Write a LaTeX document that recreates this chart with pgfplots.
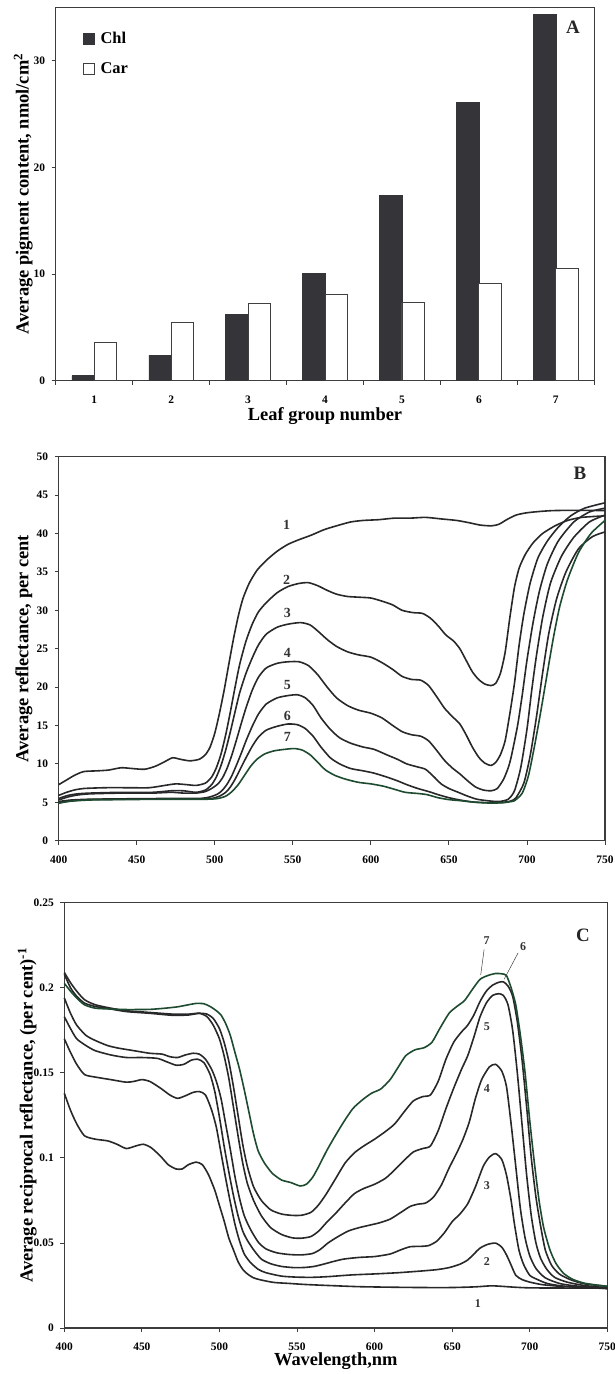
\documentclass[border=0pt]{standalone}
\usepackage{pgfplots}
\pgfplotsset{compat=1.18}
\usepackage{fontspec}
\setmainfont{Liberation Serif}
\definecolor{barfill}{RGB}{52,52,57}
\definecolor{axcol}{RGB}{60,60,60}
\definecolor{crv}{RGB}{40,40,42}
\definecolor{grn}{RGB}{30,75,48}
\newcommand{\fs}[1]{\fontsize{#1}{#1}\selectfont\bfseries}
\pgfplotsset{
  myaxis/.style={
    scale only axis,
    anchor=north west,
    axis line style={axcol, line width=1.1bp},
    tick style={axcol, line width=0.9bp},
    tick align=outside,
    major tick length=4bp,
    minor tick length=4bp,
    tick pos=left,
    /pgf/number format/assume math mode=true,
    tick label style={font=\fs{11.5}},
    yticklabel style={xshift=-3bp},
    xticklabel style={yshift=-7.5bp},
    label style={font=\fs{18.5}},
    ylabel style={anchor=center},
    xlabel style={anchor=center},
    clip=false,
  },
  crvstyle/.style={crv, line width=1.6bp, smooth, tension=0.4},
  grnstyle/.style={grn, line width=1.6bp, smooth, tension=0.4},
}
\begin{document}
\begin{tikzpicture}
%================ A =================
\begin{axis}[myaxis, at={(55.7bp,-7.3bp)}, width=538.6bp, height=373.4bp,
  xmin=0.5, xmax=7.5, ymin=0, ymax=35,
  ytick={0,10,20,30},
  xtick={1,2,3,4,5,6,7},
  every major x tick/.append style={draw=none},
  minor xtick={0.5,1.5,2.5,3.5,4.5,5.5,6.5,7.5},
  ybar, bar width=0.29,
  xlabel={Leaf group number},
  ylabel={Average pigment content, nmol/cm\textsuperscript{2}},
  xlabel style={at={(axis description cs:0.5,-0.0945)}},
  ylabel style={at={(axis description cs:-0.060,0.5)}},
  legend style={at={(axis description cs:0.05,0.94)}, anchor=north west,
    draw=none, fill=none, font=\fs{16.5}, row sep=14bp, inner sep=0pt,
    /tikz/every odd column/.append style={column sep=4bp}},
  legend cell align=left,
]
\addplot[ybar, bar shift=-0.145, fill=barfill, draw=barfill, line width=0.6bp,
  legend image code/.code={\draw[fill=barfill,draw=barfill] (0bp,-5.5bp) rectangle (11bp,5.5bp);}]
  coordinates {(1,0.47) (2,2.4) (3,6.2) (4,10.06) (5,17.4) (6,26.1) (7,34.3)};
\addlegendentry{Chl}
\addplot[ybar, bar shift=0.145, fill=white, draw=black!75, line width=0.8bp,
  legend image code/.code={\draw[fill=white,draw=black!75,line width=0.8bp] (0bp,-5.5bp) rectangle (11bp,5.5bp);}]
  coordinates {(1,3.6) (2,5.45) (3,7.27) (4,8.09) (5,7.33) (6,9.15) (7,10.56)};
\addlegendentry{Car}
\node[font=\fs{19}, text=black!85] at (axis description cs:0.9605,0.946) {A};
\end{axis}
%================ B =================
\begin{axis}[myaxis, at={(58.7bp,-456.7bp)}, width=546.3bp, height=384bp,
  xmin=400, xmax=750, ymin=0, ymax=50,
  xtick={400,450,500,550,600,650,700,750},
  ytick={0,5,10,15,20,25,30,35,40,45,50},
  ylabel={Average reflectance, per cent},
  ylabel style={at={(axis description cs:-0.0635,0.5)}},
]
\addplot[crvstyle] coordinates {(400,7.3)(405,7.9)(410,8.5)(416,9.0)(425,9.1)(432,9.2)(440,9.5)(447,9.4)(455,9.3)(462,9.7)(468,10.3)(473,10.8)(478,10.6)(484,10.4)(490,10.6)(494,11.2)(497,12.2)(500,14.0)(503,16.6)(506,19.6)(509,23.0)(512,26.3)(515,29.2)(518,31.5)(522,33.5)(527,35.2)(533,36.5)(540,37.7)(547,38.6)(554,39.2)(562,39.8)(570,40.5)(578,41.0)(587,41.5)(595,41.7)(605,41.8)(615,42.0)(625,42.0)(635,42.1)(645,41.9)(655,41.7)(663,41.4)(670,41.1)(677,41.0)(682,41.2)(687,41.8)(693,42.4)(700,42.7)(710,42.9)(720,43.0)(750,43.0)};
\addplot[crvstyle] coordinates {(400,5.9)(405,6.3)(410,6.6)(416,6.8)(430,6.9)(445,6.9)(458,6.9)(468,7.2)(475,7.4)(482,7.3)(488,7.2)(494,7.5)(498,8.3)(501,9.5)(504,11.3)(507,13.8)(510,16.8)(513,20.0)(516,23.0)(520,26.0)(524,28.2)(528,29.8)(533,31.0)(540,32.3)(547,33.1)(554,33.5)(560,33.6)(566,33.2)(572,32.6)(578,32.1)(585,31.8)(593,31.7)(600,31.6)(607,31.2)(614,30.7)(620,30.0)(627,29.7)(633,29.6)(638,29.0)(643,28.0)(648,26.8)(653,26.0)(657,25.0)(661,23.5)(665,22.0)(669,21.0)(673,20.4)(677,20.2)(680,20.5)(683,21.8)(686,24.5)(689,29.0)(692,33.0)(695,35.5)(699,37.3)(704,38.8)(710,40.0)(718,41.0)(726,41.7)(735,42.1)(750,42.3)};
\addplot[crvstyle] coordinates {(400,5.5)(406,5.9)(412,6.1)(420,6.2)(440,6.3)(460,6.3)(472,6.5)(480,6.5)(488,6.3)(494,6.6)(498,7.3)(501,8.3)(504,9.8)(507,11.8)(510,14.2)(513,16.8)(516,19.3)(520,21.8)(524,23.8)(528,25.5)(533,26.9)(540,27.8)(547,28.2)(555,28.4)(561,28.1)(566,27.3)(572,26.2)(578,25.3)(585,24.6)(592,24.2)(600,23.9)(607,23.2)(614,22.3)(620,21.4)(626,21.0)(632,20.9)(637,20.2)(642,18.8)(647,17.3)(652,16.2)(657,15.2)(661,13.8)(665,12.2)(669,10.9)(673,10.1)(677,9.8)(680,10.2)(683,11.2)(686,13.0)(689,16.5)(692,20.5)(695,25.5)(698,29.5)(702,33.5)(707,36.8)(713,39.0)(720,40.8)(728,42.3)(737,43.3)(750,44.0)};
\addplot[crvstyle] coordinates {(400,5.3)(406,5.7)(412,5.95)(420,6.1)(440,6.2)(460,6.2)(472,6.3)(480,6.2)(488,6.2)(494,6.4)(498,6.8)(502,7.4)(505,8.2)(508,9.5)(511,11.2)(514,13.2)(517,15.3)(520,17.3)(524,19.6)(528,21.3)(533,22.5)(540,23.1)(547,23.3)(554,23.3)(560,22.8)(566,21.6)(572,20.0)(578,18.6)(585,17.6)(592,17.0)(600,16.6)(607,16.0)(614,15.0)(620,14.2)(626,13.8)(632,13.6)(637,13.0)(642,11.8)(647,10.5)(652,9.5)(657,8.7)(662,7.8)(667,7.0)(672,6.6)(677,6.5)(681,6.8)(685,8.0)(688,9.5)(690,11)(694,15)(697,19)(700,23.5)(704,28.5)(708,32.5)(713,36)(720,39)(730,41.5)(740,42.8)(750,43.3)};
\addplot[crvstyle] coordinates {(400,5.1)(408,5.3)(420,5.4)(440,5.45)(470,5.5)(490,5.5)(497,5.7)(502,6.1)(505,6.6)(508,7.4)(511,8.5)(514,9.9)(517,11.4)(520,13.0)(524,14.9)(528,16.5)(533,17.8)(540,18.6)(547,18.9)(553,19.0)(558,18.6)(563,17.6)(568,16.0)(574,14.5)(580,13.4)(587,12.7)(595,12.2)(602,11.9)(610,11.2)(617,10.6)(623,10.0)(630,9.6)(635,9.3)(640,8.4)(645,7.4)(650,6.8)(656,6.3)(662,5.8)(668,5.4)(675,5.2)(682,5.1)(688,5.4)(692,6.5)(696,9.5)(700,14.5)(703,19.5)(706,24)(710,29)(715,33.5)(722,37)(730,39.5)(740,41.5)(750,42.4)};
\addplot[crvstyle] coordinates {(400,4.9)(408,5.2)(420,5.35)(440,5.4)(470,5.45)(490,5.45)(498,5.5)(503,5.8)(507,6.3)(510,7.0)(513,8.0)(516,9.2)(520,10.8)(524,12.3)(528,13.5)(533,14.4)(540,14.9)(547,15.2)(553,15.1)(558,14.6)(563,13.6)(568,12.2)(574,10.8)(580,10.0)(587,9.4)(595,9.1)(602,8.8)(610,8.3)(617,7.8)(623,7.3)(630,6.8)(637,6.4)(643,6.0)(650,5.6)(657,5.3)(665,5.05)(675,4.95)(685,5.0)(690,5.2)(693,5.6)(698,7.5)(702,11)(706,16)(710,21.8)(714,27)(719,31.5)(725,35)(733,38)(742,39.6)(750,40.2)};
\addplot[grnstyle] coordinates {(400,4.9)(408,5.15)(420,5.3)(440,5.35)(470,5.4)(495,5.4)(502,5.5)(507,5.8)(511,6.4)(515,7.3)(519,8.5)(523,9.7)(527,10.6)(532,11.3)(538,11.7)(545,11.9)(551,12.0)(556,11.8)(561,11.2)(566,10.2)(571,9.2)(577,8.5)(584,8.0)(592,7.6)(600,7.4)(608,7.1)(615,6.7)(622,6.3)(630,6.15)(636,6.0)(643,5.6)(650,5.35)(658,5.2)(667,5.0)(677,4.9)(685,4.95)(690,5.1)(692,5.2)(697,6.2)(701,8.5)(705,12.5)(709,17)(713,21.8)(717,26.5)(721,30.5)(726,34)(733,37.5)(741,40)(750,41.7)};
\begin{scope}[every node/.style={font=\fs{14}, text=black!80}]
\node at (axis cs:546,41.1) {1};
\node at (axis cs:546,34.0) {2};
\node at (axis cs:546.5,29.6) {3};
\node at (axis cs:546.5,24.5) {4};
\node at (axis cs:546.5,20.3) {5};
\node at (axis cs:546.5,16.2) {6};
\node at (axis cs:546.5,13.5) {7};
\end{scope}
\node[font=\fs{19}, text=black!85] at (axis description cs:0.954,0.9576) {B};
\end{axis}
%================ C =================
\begin{axis}[myaxis, at={(64.3bp,-902.7bp)}, width=543bp, height=425.3bp,
  xmin=400, xmax=750, ymin=0, ymax=0.25,
  xtick={400,450,500,550,600,650,700,750},
  ytick={0,0.05,0.1,0.15,0.2,0.25},
  yticklabels={0,0.05,0.1,0.15,0.2,0.25},
  xlabel={Wavelength,nm},
  ylabel={Average reciprocal reflectance, (per cent)\textsuperscript{-1}},
  xlabel style={at={(axis description cs:0.5,-0.078)}},
  ylabel style={at={(axis description cs:-0.068,0.5)}},
]
\addplot[crvstyle] coordinates {(400,0.138)(404,0.128)(408,0.12)(413,0.113)(420,0.111)(428,0.110)(434,0.108)(440,0.1055)(446,0.107)(451,0.108)(456,0.106)(462,0.101)(467,0.096)(472,0.0935)(476,0.0935)(480,0.096)(485,0.0975)(489,0.096)(493,0.09)(497,0.081)(500,0.072)(503,0.063)(506,0.053)(509,0.046)(512,0.039)(515,0.0345)(518,0.0318)(522,0.0295)(527,0.0282)(535,0.0268)(545,0.0262)(555,0.0256)(570,0.025)(590,0.0243)(610,0.024)(630,0.0238)(650,0.0238)(665,0.0242)(675,0.0248)(682,0.0245)(690,0.024)(700,0.0236)(720,0.0235)(750,0.0234)};
\addplot[crvstyle] coordinates {(400,0.170)(404,0.162)(408,0.155)(413,0.149)(420,0.1475)(430,0.146)(440,0.1445)(445,0.145)(450,0.146)(455,0.145)(462,0.141)(468,0.137)(473,0.135)(478,0.1365)(483,0.1385)(487,0.139)(491,0.137)(495,0.128)(498,0.118)(501,0.103)(504,0.088)(507,0.074)(510,0.061)(513,0.051)(516,0.0435)(520,0.0385)(525,0.0345)(530,0.0325)(540,0.0305)(550,0.0299)(560,0.0298)(570,0.0302)(585,0.0312)(600,0.0318)(615,0.0325)(630,0.0335)(640,0.0343)(648,0.0355)(655,0.0375)(660,0.04)(664,0.0435)(668,0.047)(673,0.0492)(678,0.0499)(682,0.0475)(685,0.043)(688,0.037)(691,0.031)(695,0.0285)(700,0.027)(708,0.0255)(720,0.0245)(735,0.024)(750,0.0238)};
\addplot[crvstyle] coordinates {(400,0.183)(404,0.176)(408,0.17)(414,0.166)(420,0.163)(430,0.1605)(440,0.159)(450,0.159)(460,0.1585)(466,0.1565)(472,0.1545)(477,0.155)(482,0.1575)(486,0.158)(490,0.156)(494,0.149)(497,0.139)(500,0.124)(503,0.107)(506,0.092)(509,0.078)(512,0.066)(515,0.057)(518,0.0515)(522,0.046)(527,0.0405)(533,0.0378)(540,0.0362)(548,0.0355)(555,0.0356)(561,0.0362)(567,0.0375)(573,0.039)(580,0.0405)(590,0.0415)(600,0.042)(610,0.0435)(617,0.046)(623,0.0478)(630,0.048)(635,0.0485)(640,0.051)(645,0.056)(650,0.0625)(655,0.067)(660,0.073)(665,0.083)(670,0.095)(674,0.1005)(678,0.1025)(682,0.099)(685,0.09)(688,0.075)(690,0.062)(693,0.046)(696,0.0375)(700,0.031)(705,0.0285)(712,0.026)(725,0.0243)(750,0.0232)};
\addplot[crvstyle] coordinates {(400,0.194)(404,0.185)(408,0.178)(414,0.172)(420,0.169)(428,0.166)(435,0.1645)(445,0.163)(455,0.1615)(463,0.161)(468,0.1595)(473,0.159)(478,0.1605)(483,0.1615)(487,0.161)(491,0.158)(495,0.152)(498,0.145)(501,0.135)(504,0.12)(507,0.105)(510,0.089)(513,0.076)(516,0.066)(520,0.058)(525,0.0505)(530,0.0465)(537,0.0442)(545,0.0432)(553,0.043)(560,0.0438)(565,0.0462)(570,0.05)(576,0.0535)(583,0.057)(590,0.059)(597,0.0605)(603,0.0618)(610,0.064)(617,0.068)(623,0.0715)(628,0.0728)(633,0.0735)(638,0.077)(643,0.084)(648,0.094)(653,0.103)(657,0.111)(661,0.121)(665,0.135)(669,0.146)(674,0.1535)(678,0.155)(682,0.151)(685,0.142)(688,0.12)(691,0.095)(694,0.07)(697,0.053)(700,0.0425)(704,0.035)(710,0.0295)(720,0.026)(735,0.0242)(750,0.0232)};
\addplot[crvstyle] coordinates {(400,0.209)(404,0.203)(408,0.198)(413,0.193)(420,0.19)(430,0.188)(440,0.1865)(455,0.1855)(470,0.1845)(480,0.1845)(487,0.185)(492,0.183)(496,0.178)(500,0.17)(503,0.16)(506,0.147)(509,0.13)(512,0.113)(515,0.097)(518,0.085)(522,0.075)(527,0.066)(533,0.059)(540,0.055)(547,0.053)(553,0.0528)(559,0.0538)(564,0.057)(569,0.062)(575,0.0675)(581,0.0735)(587,0.079)(593,0.082)(600,0.0845)(607,0.088)(613,0.093)(619,0.0985)(625,0.1035)(631,0.1055)(636,0.107)(641,0.116)(646,0.129)(651,0.141)(656,0.152)(660,0.16)(664,0.171)(668,0.183)(672,0.191)(676,0.1955)(680,0.1965)(683,0.1955)(686,0.19)(689,0.175)(692,0.15)(695,0.12)(698,0.09)(701,0.066)(704,0.05)(707,0.041)(711,0.0345)(716,0.0298)(724,0.027)(735,0.025)(750,0.0236)};
\addplot[crvstyle] coordinates {(400,0.208)(404,0.2)(408,0.195)(413,0.191)(420,0.189)(430,0.1875)(440,0.186)(455,0.185)(470,0.1838)(480,0.184)(487,0.185)(492,0.1845)(496,0.182)(500,0.176)(503,0.168)(506,0.157)(509,0.142)(512,0.125)(515,0.108)(518,0.095)(522,0.083)(527,0.075)(533,0.0695)(540,0.067)(547,0.0662)(553,0.0663)(559,0.068)(564,0.0725)(569,0.079)(575,0.088)(581,0.097)(587,0.103)(593,0.107)(600,0.111)(607,0.1155)(613,0.12)(619,0.127)(625,0.1335)(631,0.136)(636,0.137)(641,0.145)(646,0.158)(651,0.168)(656,0.174)(660,0.178)(664,0.184)(668,0.192)(672,0.198)(676,0.2015)(680,0.2032)(683,0.2035)(686,0.201)(689,0.195)(692,0.18)(695,0.158)(698,0.13)(701,0.1)(704,0.077)(707,0.06)(710,0.046)(714,0.037)(719,0.0318)(726,0.0285)(735,0.026)(750,0.0245)};
\addplot[grnstyle] coordinates {(400,0.2026)(404,0.198)(408,0.194)(413,0.19)(420,0.188)(430,0.1875)(440,0.1872)(455,0.1873)(465,0.188)(473,0.1888)(480,0.19)(485,0.1908)(490,0.1906)(494,0.189)(498,0.1865)(501,0.184)(504,0.179)(507,0.172)(510,0.162)(513,0.152)(516,0.14)(519,0.127)(522,0.114)(525,0.104)(529,0.097)(534,0.091)(540,0.087)(546,0.0855)(552,0.0835)(556,0.0845)(560,0.0885)(564,0.095)(569,0.104)(574,0.112)(580,0.121)(586,0.129)(592,0.134)(598,0.138)(604,0.1405)(610,0.146)(615,0.153)(620,0.16)(626,0.1635)(632,0.1648)(637,0.168)(642,0.176)(648,0.185)(653,0.189)(658,0.1925)(663,0.199)(668,0.205)(673,0.2072)(678,0.2084)(682,0.2082)(685,0.2072)(688,0.2)(691,0.19)(694,0.172)(697,0.15)(700,0.122)(703,0.097)(706,0.075)(709,0.059)(713,0.046)(717,0.0378)(722,0.032)(728,0.0285)(736,0.0262)(750,0.0245)};
\begin{scope}[every node/.style={font=\fs{12}, text=black!80}]
\node at (axis cs:672.3,0.177) {5};
\node at (axis cs:672.3,0.141) {4};
\node at (axis cs:672.3,0.084) {3};
\node at (axis cs:672.3,0.039) {2};
\node at (axis cs:666.6,0.0141) {1};
\node at (axis cs:672.2,0.228) {7};
\node at (axis cs:695.7,0.224) {6};
\end{scope}
\draw[black!75, line width=0.5bp] (axis cs:670.6,0.2225) -- (axis cs:668.4,0.2075);
\draw[black!75, line width=0.5bp] (axis cs:692.5,0.2205) -- (axis cs:683.5,0.2050);
\node[font=\fs{19}, text=black!85] at (axis description cs:0.955,0.924) {C};
\end{axis}
\pgfresetboundingbox
\path (0bp,0bp) rectangle (615bp,-1374bp);
\end{tikzpicture}
\end{document}
